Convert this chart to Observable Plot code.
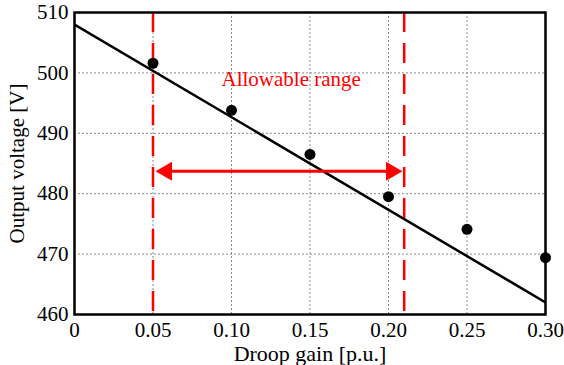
<!DOCTYPE html>
<html>
<head>
<meta charset="utf-8">
<script src="https://cdn.jsdelivr.net/npm/d3@7"></script>
<script src="https://cdn.jsdelivr.net/npm/@observablehq/plot@0.6"></script>
<style>
  html, body { margin: 0; padding: 0; background: #fff; }
  #chart { width: 564px; height: 365px; }
  #chart svg, #chart svg text, #chart svg g { font-family: "Liberation Serif", "Times New Roman", "DejaVu Serif", serif !important; }
</style>
</head>
<body>
<div id="chart"></div>
<script>
// Measured points
const droop = [0.05, 0.10, 0.15, 0.20, 0.25, 0.30];
const voltage = [501.6, 493.8, 486.5, 479.5, 474.1, 469.4];
// Linear fit line end points
const fitDroop = [0, 0.30];
const fitVoltage = [508, 462];
// Allowable range
const rangeBounds = [0.05, 0.21];
const arrowVoltage = 483.7;
const annotation = "Allowable range";
const annotationAt = {x: 0.138, y: 499};
// Ticks
const xTicks = [0, 0.05, 0.10, 0.15, 0.20, 0.25, 0.30];
const yTicks = [460, 470, 480, 490, 500, 510];
const xLabel = "Droop gain [p.u.]";
const yLabel = "Output voltage [V]";

const points = droop.map((d, i) => ({x: d, y: voltage[i]}));
const fit = fitDroop.map((d, i) => ({x: d, y: fitVoltage[i]}));
const fmt = d => d === 0 ? "0" : d.toFixed(2);

const font = "Liberation Serif";

const plot = Plot.plot({
  width: 564,
  height: 365,
  marginLeft: 74,
  marginRight: 19,
  marginTop: 12,
  marginBottom: 51,
  style: {fontFamily: font, fontSize: "21px", color: "#000", background: "#fff"},
  x: {domain: [0, 0.30], ticks: xTicks, tickFormat: fmt},
  y: {domain: [460, 510], ticks: yTicks},
  marks: [
    Plot.gridX(xTicks, {stroke: "#888", strokeOpacity: 1, strokeDasharray: "2,2", strokeWidth: 1}),
    Plot.gridY(yTicks, {stroke: "#888", strokeOpacity: 1, strokeDasharray: "2,2", strokeWidth: 1}),
    Plot.axisX(xTicks, {tickSize: 0, tickPadding: 8, label: null, fontSize: 21, fontFamily: font, tickFormat: fmt}),
    Plot.axisY(yTicks, {tickSize: 0, tickPadding: 6, label: null, fontSize: 21, fontFamily: font}),
    Plot.ruleX(rangeBounds, {stroke: "#ff0000", strokeWidth: 2.5, strokeDasharray: "20,11"}),
    Plot.line(fit, {x: "x", y: "y", stroke: "#000", strokeWidth: 2.5, clip: true}),
    Plot.dot(points, {x: "x", y: "y", r: 5.5, fill: "#000", stroke: "none"}),
    Plot.ruleY([arrowVoltage], {x1: rangeBounds[0], x2: rangeBounds[1], insetLeft: 8, insetRight: 8, stroke: "#ff0000", strokeWidth: 3}),
    Plot.dot([{x: rangeBounds[0], y: arrowVoltage}], {x: "x", y: "y", symbol: "triangle", r: 7.05, fill: "#ff0000", stroke: "none", rotate: -90, dx: 13.5}),
    Plot.dot([{x: rangeBounds[1], y: arrowVoltage}], {x: "x", y: "y", symbol: "triangle", r: 7.05, fill: "#ff0000", stroke: "none", rotate: 90, dx: -12.7}),
    Plot.text([annotation], {x: annotationAt.x, y: annotationAt.y, fill: "#ff0000", fontSize: 21, fontFamily: font}),
    Plot.text([xLabel], {frameAnchor: "bottom", textAnchor: "middle", lineAnchor: "middle", dy: 39, fontSize: 22, fontFamily: font}),
    Plot.text([yLabel], {frameAnchor: "left", textAnchor: "middle", lineAnchor: "middle", dx: -57, rotate: -90, fontSize: 21, fontFamily: font}),
    Plot.frame({stroke: "#000", strokeWidth: 2.5})
  ]
});
document.getElementById("chart").appendChild(plot);
</script>
</body>
</html>
